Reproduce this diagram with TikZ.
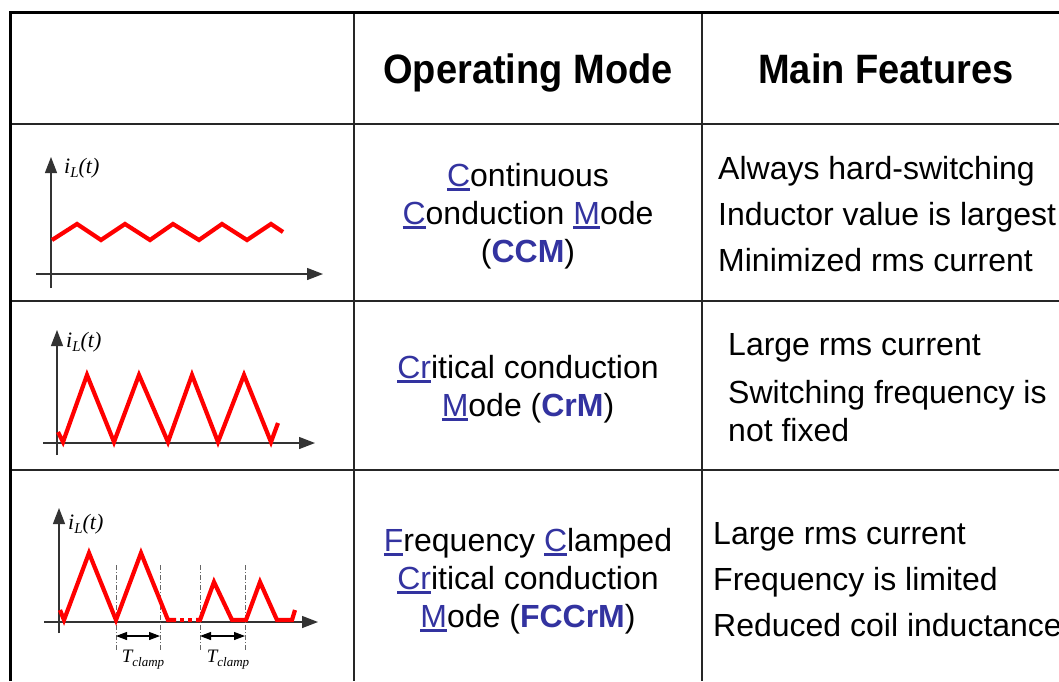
\documentclass[tikz,border=0pt]{standalone}
\usepackage{fontspec}
\usepackage{graphicx}
\setmainfont{Liberation Sans}
\newfontfamily\tnr{Liberation Serif}
\usetikzlibrary{arrows.meta}
\definecolor{modeblue}{RGB}{51,51,160}
\definecolor{wavered}{RGB}{255,0,0}
\newcommand\ulb[1]{{\color{modeblue}\setbox0\hbox{#1}\rlap{\rule[-4.5pt]{\wd0}{3pt}}\box0}}
\newcommand\acr[1]{{\color{modeblue}\bfseries #1}}
\newcommand\iL{{\tnr\itshape i\raisebox{-4pt}{\fontsize{15}{15}\selectfont L}(t)}}
\newcommand\Tcl{{\tnr\itshape T\raisebox{-4pt}{\fontsize{13}{13}\selectfont clamp}}}
\newcommand\hd[1]{\scalebox{1}[1.08]{#1}}
\begin{document}
\begin{tikzpicture}[x=1pt,y=-1pt,
  grid/.style={line width=1.4pt,black!85},
  border/.style={line width=3pt,black},
  axis/.style={line width=1.3pt,black!80,-{Triangle[length=16pt,width=12pt]}},
  wave/.style={line width=4.2pt,wavered,line join=miter},
  guide/.style={line width=0.8pt,black!60,dash pattern=on 5pt off 2pt on 1pt off 2pt},
  span/.style={line width=1.1pt,black,{Triangle[length=11pt,width=8pt]}-{Triangle[length=11pt,width=8pt]}},
  head/.style={font=\fontsize{38}{40}\selectfont\bfseries,anchor=base,inner sep=0pt},
  mode/.style={align=center,font=\fontsize{32}{38}\selectfont,inner sep=0pt},
  feat/.style={align=left,anchor=west,font=\fontsize{32}{46}\selectfont,inner sep=0pt},
  lab/.style={font=\fontsize{22}{22}\selectfont,inner sep=0pt}]
\useasboundingbox (0,0) rectangle (1059,681);
\fill[white] (0,0) rectangle (1059,681);
% grid
\draw[grid] (10,124) -- (1059,124);
\draw[grid] (10,301) -- (1059,301);
\draw[grid] (10,470) -- (1059,470);
\draw[grid] (354,12) -- (354,681);
\draw[grid] (702,12) -- (702,681);
\draw[border] (10,681) -- (10,12) -- (1059,12);
% header
\node[head] (h1) at (528,83) {\hd{Operating Mode}};
\node[head] (h2) at (886,83) {\hd{Main Features}};
% row 1
\node[mode] (m1) at (528,216) {\ulb{C}ontinuous\\\ulb{C}onduction \ulb{M}ode\\(\acr{CCM})};
\node[feat] (f1) at (718,214) {Always hard-switching\\Inductor value is largest\\Minimized rms current};
% row 2
\node[mode] (m2) at (528,389) {\ulb{Cr}itical conduction\\\ulb{M}ode (\acr{CrM})};
\node[feat] (f2a) at (728,348) {Large rms current};
\node[feat,font=\fontsize{32}{38}\selectfont] (f2b) at (728,411) {Switching frequency is\\not fixed};
% row 3
\node[mode] (m3) at (528,581) {\ulb{F}requency \ulb{C}lamped\\\ulb{Cr}itical conduction\\\ulb{M}ode (\acr{FCCrM})};
\node[feat] (f3) at (713,580) {Large rms current\\Frequency is limited\\Reduced coil inductance};
% waveform 1
\coordinate (a1y0) at (51,288); \coordinate (a1y1) at (51,157);
\coordinate (a1x0) at (36,274); \coordinate (a1x1) at (323,274);
\draw[axis] (a1y0) -- (a1y1);
\draw[axis] (a1x0) -- (a1x1);
\node[lab,anchor=west] (l1) at (64,168) {\iL};
\draw[wave] (52,240) -- (77,224) -- (101,240) -- (125,224) -- (150,240) -- (173,224) -- (199,240) -- (222,224) -- (247,240) -- (271,224) -- (283,232);
% waveform 2
\coordinate (a2y0) at (57,455); \coordinate (a2y1) at (57,330);
\coordinate (a2x0) at (43,443); \coordinate (a2x1) at (315,443);
\draw[axis] (a2y0) -- (a2y1);
\draw[axis] (a2x0) -- (a2x1);
\node[lab,anchor=west] (l2) at (66,342) {\iL};
\draw[wave] (58,432) -- (63,442) -- (87,375) -- (114,442) -- (139,375) -- (168,442) -- (192,375) -- (218,442) -- (244,375) -- (271,442) -- (278,423);
% waveform 3
\coordinate (a3y0) at (59,633); \coordinate (a3y1) at (59,508);
\coordinate (a3x0) at (44,622); \coordinate (a3x1) at (318,622);
\draw[axis] (a3y0) -- (a3y1);
\draw[axis] (a3x0) -- (a3x1);
\node[lab,anchor=west] (l3) at (68,524) {\iL};
\foreach \x in {116,160,200,245} \draw[guide] (\x,565) -- (\x,650);
\draw[wave] (60,610) -- (64,620) -- (89,553) -- (116,620) -- (141,553) -- (168,620) -- (176,620);
\draw[wave,dash pattern=on 4pt off 4pt] (180,620) -- (196,620);
\draw[wave] (196,620) -- (200,620) -- (214,582) -- (232,620) -- (246,620) -- (260,582) -- (277,620) -- (292,620) -- (295,610);
\coordinate (s1a) at (116,636); \coordinate (s1b) at (160,636);
\coordinate (s2a) at (200,636); \coordinate (s2b) at (245,636);
\draw[span] (s1a) -- (s1b);
\draw[span] (s2a) -- (s2b);
\node[lab,font=\fontsize{19}{19}\selectfont] (t1) at (143,660) {\Tcl};
\node[lab,font=\fontsize{19}{19}\selectfont] (t2) at (228,660) {\Tcl};
\end{tikzpicture}
\end{document}
